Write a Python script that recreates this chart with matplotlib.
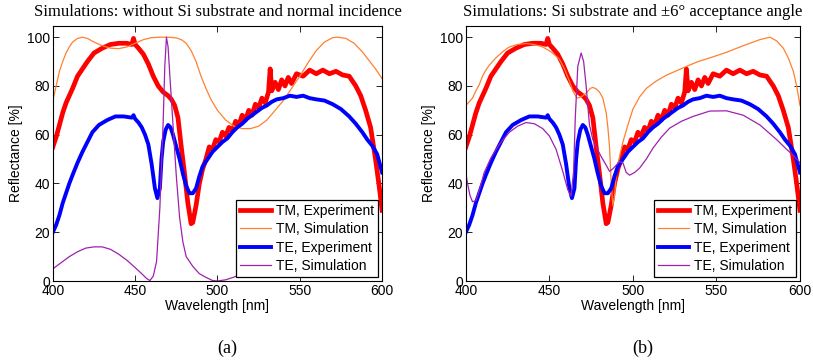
import numpy as np
import matplotlib
matplotlib.use("Agg")
import matplotlib.pyplot as plt

plt.rcParams['font.family'] = ['Liberation Sans', 'DejaVu Sans']

# measured TM (same data in both panels)
tm_exp_wl = [400, 402, 404, 406, 408, 410, 412, 415, 418, 421, 425, 430, 435, 440, 445, 448, 449, 450,
             452, 455, 458, 461, 464, 467, 470, 472, 474, 476, 478, 480, 482, 484, 485, 487, 489, 491,
             493, 495, 497, 499, 501, 503, 505, 507, 509, 511, 513, 515, 517, 519, 521, 523, 525, 527,
             529, 531, 532, 533, 535, 537, 539, 541, 543, 545, 548, 552, 556, 560, 564, 568, 572, 576,
             580, 584, 587, 590, 593, 596, 598, 600]
tm_exp_r = [55, 59, 64, 69, 73, 76, 79, 84, 87, 90, 93.5, 95.5, 97, 97.5, 97.5, 97, 99.5, 97,
            95.5, 93, 89, 84, 80, 77.5, 76, 74.5, 72, 67, 55, 44, 32, 23.5, 24, 31, 40, 46,
            50, 55, 54, 58, 57, 61, 59.5, 63, 61.5, 65.5, 64, 68, 66, 70, 68, 72.5, 71, 75,
            73, 77.5, 87, 78, 81.5, 78.5, 82.5, 80, 83.5, 81, 85, 84, 86.5, 85, 86.5, 85, 86, 84.5,
            84, 80, 76, 70, 63, 50, 40, 29]

# measured TE
te_exp_wl = [400, 402, 404, 406, 408, 410, 412, 415, 418, 421, 424, 428, 433, 438, 443, 448, 449, 450,
             452, 454, 456, 458, 460, 462, 463.5, 465, 466, 467, 468.5, 470, 471.5, 473, 475, 477, 479,
             481, 483, 485, 487, 489, 491, 493, 495, 497, 500, 503, 506, 509, 512, 515, 518, 521, 524,
             527, 530, 533, 536, 540, 544, 548, 552, 556, 560, 565, 570, 575, 580, 584, 588, 591, 594,
             597, 599, 600]
te_exp_r = [20, 23, 27, 32, 36, 40, 43.5, 48.5, 53, 57, 61, 64, 66, 67.5, 67.5, 67, 68, 66.5,
            65, 63, 60, 56, 48, 38, 34, 38, 50, 57, 62, 64, 63, 60, 55, 50, 44,
            39, 36, 36, 38, 43, 47, 49, 51, 53, 55, 57, 58.5, 61, 63, 64.5, 66.5, 68, 69.5,
            71, 72, 73.5, 74.5, 75, 76, 75.5, 76, 75, 74.5, 74, 72.5, 70.5, 67.5, 64.5, 61, 58, 55.5,
            52, 47, 44.5]

# (a) simulations without substrate, normal incidence
tm_sim_a_wl = [400, 402, 404, 406, 408, 410, 412, 415, 418, 421, 425, 430, 435, 440, 445, 450, 455, 460,
               465, 470, 475, 478, 481, 484, 487, 490, 493, 496, 500, 505, 510, 515, 520, 525, 530, 535,
               540, 545, 550, 555, 560, 565, 570, 573, 578, 583, 588, 592, 596, 600]
tm_sim_a_r = [74, 80, 86, 90, 93.5, 96, 98, 99.5, 100, 99.5, 98, 96.5, 95.5, 95.3, 96, 97.5, 99, 99.8,
              100, 100, 99.7, 99, 97.5, 94.5, 90, 84, 79, 74.5, 70, 66, 63.5, 62.5, 62.5, 63.5, 66, 70,
              74, 79, 84, 89.5, 94.5, 98, 99.8, 100, 99.5, 97.5, 94, 90.5, 87, 83]
te_sim_a_wl = [400, 405, 410, 415, 420, 425, 430, 435, 440, 445, 450, 454, 457, 459, 461, 463, 465, 467,
               468, 469, 470, 471, 473, 475, 477, 479, 481, 485, 489, 493, 497, 500, 505, 510, 515, 520]
te_sim_a_r = [5, 7.5, 10, 12, 13.5, 14, 14, 13, 11, 8.5, 5.5, 3, 1, 0.2, 2, 8, 30, 65,
              88, 100, 96, 85, 64, 43, 26, 16, 10, 6, 3, 1.5, 0.2, 0, 0.5, 1.6, 3, 4]

# (b) simulations with Si substrate, +-6 deg acceptance
tm_sim_b_wl = [400, 402, 404, 406, 408, 410, 412, 414, 418, 422, 426, 431, 436, 441, 446, 451, 456, 459,
               462, 464, 466.5, 469, 472, 474.5, 476, 478, 480, 482, 484, 485, 486, 487, 488, 489, 490,
               492, 494, 497, 500, 504, 508, 514, 520, 526, 532, 539, 546, 556, 566, 576, 582, 586, 590,
               593, 596, 598, 600]
tm_sim_b_r = [72, 73.5, 75, 78, 80.5, 84, 86.5, 88.5, 91.5, 94, 96, 97, 97.4, 97, 96, 94, 91, 87,
              82, 78, 75, 75.5, 77, 79, 79.4, 78.8, 77.5, 75, 69, 63, 55, 40, 31, 35, 43,
              51, 57, 64, 70.5, 75.5, 79, 82, 84.4, 86.2, 88, 90, 91.5, 93.8, 96.5, 99, 100, 98.5, 95.5,
              91.5, 86, 80, 72]
te_sim_b_wl = [400, 401, 402.5, 404, 406, 408, 411, 415, 420, 426, 431, 436, 441, 446, 450, 454, 458, 461,
               463, 464.5, 465.5, 467, 469, 470.5, 472, 474, 476, 478, 481, 484, 486, 488, 490, 492, 494,
               496, 498, 501, 504, 508, 512, 517, 522, 529, 536, 546, 556, 566, 576, 586, 592, 596, 600]
te_sim_b_r = [44, 40, 35, 32.5, 33, 37, 44.5, 50.5, 56, 61, 63.5, 65, 64.5, 62.5, 59.5, 54, 45, 37.5,
              35, 45, 67, 88, 93.5, 90, 80, 64, 58, 55, 51, 47.5, 45, 46, 47.5, 49, 48.5,
              44.5, 43.4, 44.5, 46.3, 50, 54.5, 59, 62.7, 65.5, 67.5, 69.7, 69.8, 68, 64, 58, 54, 51.5, 48.5]

labels = ['TM, Experiment', 'TM, Simulation', 'TE, Experiment', 'TE, Simulation']
titles = ['Simulations: without Si substrate and normal incidence',
          'Simulations: Si substrate and \u00b16\u00b0 acceptance angle']
letters = ['(a)', '(b)']

c_red = '#ff0000'
c_orange = '#ff8030'
c_blue = '#0000ff'
c_purple = '#a020b0'

fig = plt.figure(figsize=(8.13, 3.64), dpi=100)
ax_a = fig.add_axes([0.065, 0.228, 0.405, 0.700])
ax_b = fig.add_axes([0.573, 0.228, 0.411, 0.700])

sims = [(tm_sim_a_wl, tm_sim_a_r, te_sim_a_wl, te_sim_a_r),
        (tm_sim_b_wl, tm_sim_b_r, te_sim_b_wl, te_sim_b_r)]
letter_x = [0.28, 0.79]

for i, ax in enumerate([ax_a, ax_b]):
    tmw, tmr, tew, ter = sims[i]
    ax.plot(tm_exp_wl, tm_exp_r, color=c_red, lw=3.4, label=labels[0])
    ax.plot(tmw, tmr, color=c_orange, lw=0.9, label=labels[1])
    ax.plot(te_exp_wl, te_exp_r, color=c_blue, lw=2.8, label=labels[2])
    ax.plot(tew, ter, color=c_purple, lw=0.9, label=labels[3])
    ax.set_xlim(400, 600)
    ax.set_ylim(0, 104.5)
    ax.set_xticks([400, 450, 500, 550, 600])
    ax.set_yticks([0, 20, 40, 60, 80, 100])
    ax.tick_params(direction='in', top=True, right=True, labelsize=10, length=4, width=0.6, pad=2)
    for s in ax.spines.values():
        s.set_linewidth(0.8)
    ax.set_xlabel('Wavelength [nm]', fontsize=10, labelpad=1)
    ax.set_ylabel('Reflectance [%]', fontsize=10, labelpad=3)
    ax.set_title(titles[i], family='Liberation Serif', fontsize=12, pad=7)
    leg = ax.legend(loc='lower right', fontsize=10, frameon=True, fancybox=False,
                    edgecolor='black', framealpha=1, handlelength=2.2, handletextpad=0.35,
                    labelspacing=0.3, borderpad=0.3, borderaxespad=0.3)
    leg.get_frame().set_linewidth(0.9)
    fig.text(letter_x[i], 0.044, letters[i], ha='center', va='center',
             family='Liberation Serif', fontsize=13)

fig.savefig('out.png', dpi=100)
